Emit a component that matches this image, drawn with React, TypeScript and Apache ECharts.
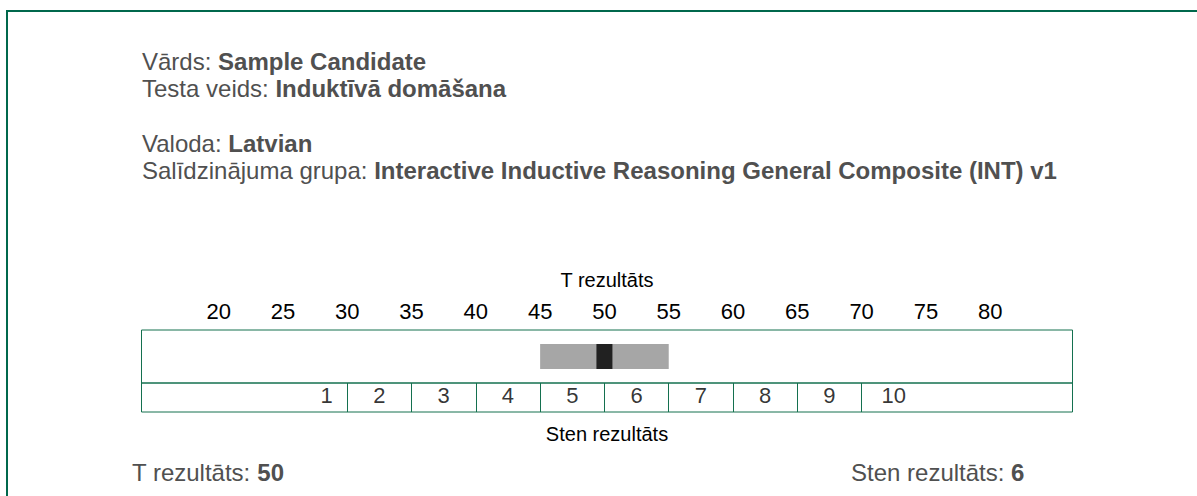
import React, { useEffect, useRef } from "react";
import * as echarts from "echarts";

// ---- data ----
const tTicks = [20, 25, 30, 35, 40, 45, 50, 55, 60, 65, 70, 75, 80];
const stenBoundaries = [30, 35, 40, 45, 50, 55, 60, 65, 70];
const stenLabels = ["1", "2", "3", "4", "5", "6", "7", "8", "9", "10"];
const stenLabelT = [28.4, 32.5, 37.5, 42.5, 47.5, 52.5, 57.5, 62.5, 67.5, 72.5];
const tScore = 50;
const stenScore = 6;
const bandLow = 45;
const bandHigh = 55;
const tMin = 14;
const tMax = 86.4;

const headerLabels = ["Vārds: ", "Testa veids: ", "Valoda: ", "Salīdzinājuma grupa: "];
const headerValues = [
  "Sample Candidate",
  "Induktīvā domāšana",
  "Latvian",
  "Interactive Inductive Reasoning General Composite (INT) v1",
];
const tTitle = "T rezultāts";
const stenTitle = "Sten rezultāts";

const FONT = '"Liberation Sans", Arial, Helvetica, sans-serif';
const LINE = "#14704f";
const BORDER = "#00684c";
const TEXT = "#505050";
const headerY = [61.5, 88.5, 143.5, 170.5];

export default function App() {
  const ref = useRef<HTMLDivElement>(null);

  useEffect(() => {
    if (!ref.current) return;
    const chart = echarts.init(ref.current, undefined, { renderer: "svg" });

    const richText = (label: string, value: string, x: number, y: number) => ({
      type: "text",
      x,
      y,
      silent: true,
      style: {
        text: `${label}{b|${value}}`,
        fill: TEXT,
        fontSize: 24,
        fontFamily: FONT,
        verticalAlign: "middle",
        align: "left",
        rich: {
          b: { fontWeight: "bold", fontSize: 24, fontFamily: FONT, fill: TEXT },
        },
      },
    });

    const option: any = {
      animation: false,
      textStyle: { fontFamily: FONT },
      grid: [
        { left: 141.5, top: 330, width: 931, height: 53, show: true, borderColor: LINE, borderWidth: 1, backgroundColor: "transparent" },
        { left: 141.5, top: 383, width: 931, height: 29, show: true, borderColor: LINE, borderWidth: 1, backgroundColor: "transparent" },
      ],
      xAxis: [
        {
          gridIndex: 0,
          type: "value",
          position: "top",
          min: tMin,
          max: tMax,
          axisLine: { show: false },
          axisTick: { show: false },
          splitLine: { show: false },
          axisLabel: { customValues: tTicks, fontSize: 22, color: "#000", margin: 8, fontFamily: FONT },
          name: tTitle,
          nameLocation: "middle",
          nameGap: 40,
          nameTextStyle: { fontSize: 20, color: "#000", fontFamily: FONT },
        },
        {
          gridIndex: 1,
          type: "value",
          position: "bottom",
          min: tMin,
          max: tMax,
          axisLine: { show: false },
          axisTick: { show: true, inside: true, length: 29, customValues: stenBoundaries, lineStyle: { color: LINE, width: 1 } },
          axisLabel: { show: false },
          splitLine: { show: false },
          name: stenTitle,
          nameLocation: "middle",
          nameGap: 12,
          nameTextStyle: { fontSize: 20, color: "#000", fontFamily: FONT },
        },
      ],
      yAxis: [
        { gridIndex: 0, type: "category", data: ["T"], show: false },
        { gridIndex: 1, type: "value", min: 0, max: 1, show: false },
      ],
      series: [
        {
          type: "bar",
          xAxisIndex: 0,
          yAxisIndex: 0,
          stack: "band",
          data: [bandLow],
          barWidth: 25,
          silent: true,
          itemStyle: { color: "rgba(0,0,0,0)" },
        },
        {
          type: "bar",
          xAxisIndex: 0,
          yAxisIndex: 0,
          stack: "band",
          data: [bandHigh - bandLow],
          barWidth: 25,
          silent: true,
          itemStyle: { color: "#a6a6a6" },
        },
        {
          type: "scatter",
          xAxisIndex: 0,
          yAxisIndex: 0,
          data: [[tScore, "T"]],
          symbol: "rect",
          symbolSize: [16, 25],
          silent: true,
          itemStyle: { color: "#000" },
          z: 5,
        },
        {
          type: "scatter",
          xAxisIndex: 1,
          yAxisIndex: 1,
          data: stenLabelT.map((t, i) => [t, 0.5, stenLabels[i]]),
          symbolSize: 1,
          silent: true,
          itemStyle: { color: "rgba(0,0,0,0)" },
          label: {
            show: true,
            position: "inside",
            formatter: (p: any) => p.data[2],
            fontSize: 22,
            color: "#000",
            fontFamily: FONT,
            offset: [0, -2],
          },
        },
      ],
      graphic: [
        { type: "rect", silent: true, shape: { x: 6, y: 10, width: 1191, height: 2 }, style: { fill: BORDER } },
        { type: "rect", silent: true, shape: { x: 6, y: 10, width: 2, height: 486 }, style: { fill: BORDER } },
        ...headerLabels.map((l, i) => richText(l, headerValues[i], 142, headerY[i])),
        richText("T rezultāts: ", String(tScore), 132, 472),
        richText("Sten rezultāts: ", String(stenScore), 851, 472),
      ],
    };

    chart.setOption(option);
    return () => chart.dispose();
  }, []);

  return (
    <div
      ref={ref}
      style={{ position: "absolute", left: 0, top: 0, width: 1197, height: 496, background: "#fff" }}
    />
  );
}
